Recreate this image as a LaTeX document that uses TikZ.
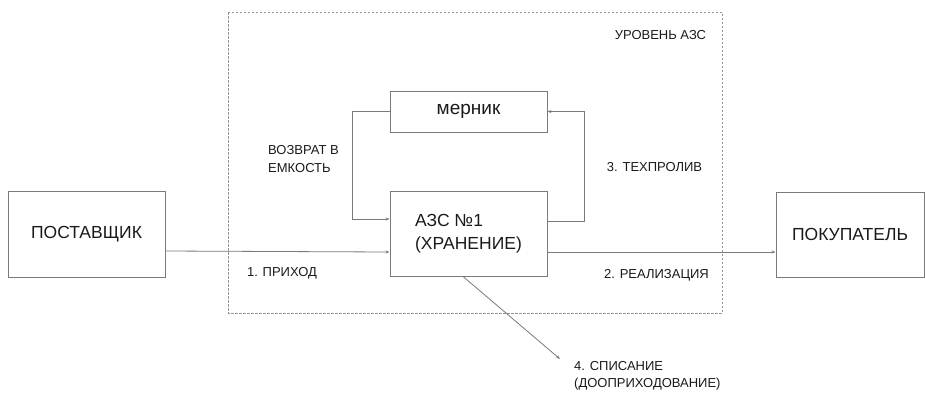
\documentclass[tikz,border=0pt]{standalone}
\usepackage{fontspec}
\setmainfont{Liberation Sans}
\usetikzlibrary{positioning}
\usetikzlibrary{arrows.meta}

\definecolor{linegray}{HTML}{7A7A7A}
\definecolor{textgray}{HTML}{1A1A1A}

\tikzset{
  box/.style    = {draw=linegray, line width=0.9pt, minimum width=157pt, text=textgray,
                   font=\fontsize{17.5}{23}\selectfont, inner sep=0pt},
  lbl/.style    = {text=textgray, font=\fontsize{13}{17.5}\selectfont, align=left, inner sep=0pt},
  flow/.style   = {draw=linegray, line width=0.8pt, -{Stealth[length=4pt,width=3pt]}},
  levelbox/.style = {draw=linegray!80, line width=0.7pt, dash pattern=on 2.5pt off 1.5pt}
}

\begin{document}
\begin{tikzpicture}[x=1pt, y=-1pt]
 \useasboundingbox (0,0) rectangle (925,392);

 \draw[levelbox] (228,12) rectangle (722,313);
 \node[lbl, name=level] at (660.5,35) {УРОВЕНЬ АЗС};

 \node[box, minimum height=86pt, name=supplier] at (86.5,234)  {ПОСТАВЩИК};
 \node[box, minimum height=85pt, align=left, name=azs] at (468.5,233.5) {АЗС №1\\(ХРАНЕНИЕ)};
 \node[box, minimum height=41pt, font=\fontsize{19}{23}\selectfont, name=mernik] at (468.5,111.5) {мерник};
 \node[box, minimum height=85pt, minimum width=148pt, name=buyer] at (850,234.5) {ПОКУПАТЕЛЬ};

 \node[lbl, anchor=west, name=returnlbl] at (268,159)   {ВОЗВРАТ В\\ЕМКОСТЬ};
 \node[lbl, name=spilllbl]  at (654.5,167) {3. ТЕХПРОЛИВ};
 \node[lbl, name=inlbl]     at (282,273)   {1. ПРИХОД};
 \node[lbl, name=salelbl]   at (656.5,275) {2. РЕАЛИЗАЦИЯ};
 \node[lbl, anchor=west, name=writeoff] at (574,376) {4. СПИСАНИЕ\\(ДООПРИХОДОВАНИЕ)};

 \coordinate (writeoffend) at (560,359);

 \draw[flow] (mernik.west) -- ++(-37,0) |- ([yshift=14.5pt]azs.west);
 \draw[flow] ([yshift=12.5pt]azs.east) -- ++(37,0) |- (mernik.east);
 \draw[flow] ([yshift=-17pt]supplier.east) -- ([yshift=-18.5pt]azs.west);
 \draw[flow] ([yshift=-18.5pt]azs.east) -- ([yshift=-17.5pt]buyer.west);
 \draw[flow] ([xshift=-5.5pt]azs.south) -- (writeoffend);

\end{tikzpicture}
\end{document}
